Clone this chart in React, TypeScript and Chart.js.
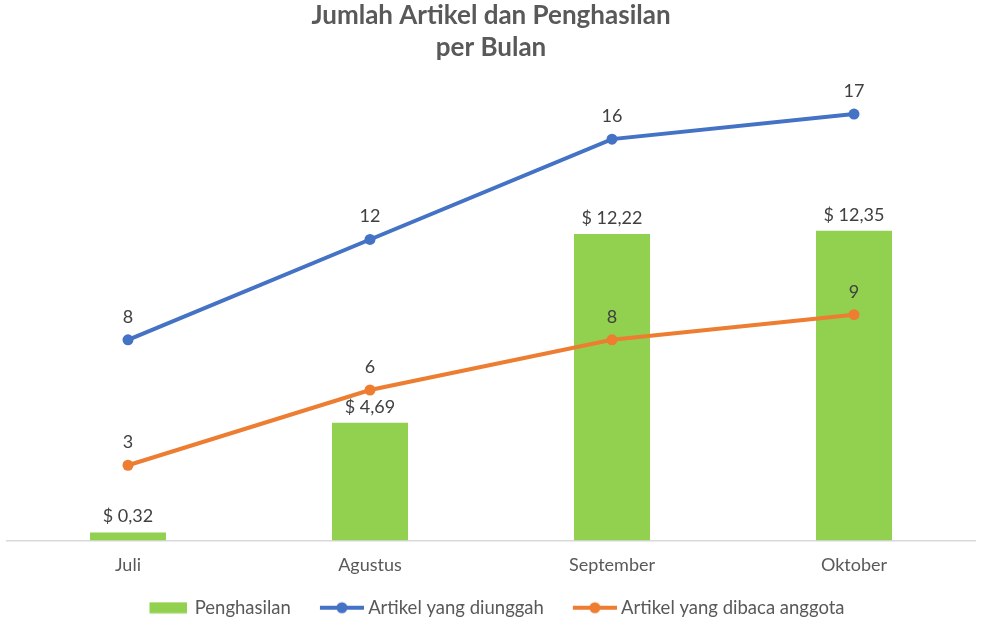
import React, { useEffect, useRef } from "react";
import { Chart, registerables } from "chart.js";

Chart.register(...registerables);

const categories = ["Juli", "Agustus", "September", "Oktober"];
const penghasilan = [0.32, 4.69, 12.22, 12.35];
const diunggah = [8, 12, 16, 17];
const dibaca = [3, 6, 8, 9];
const seriesNames = ["Penghasilan", "Artikel yang diunggah", "Artikel yang dibaca anggota"];
const titleLines = ["Jumlah Artikel dan Penghasilan", "per Bulan"];

const GREEN = "#92D050";
const BLUE = "#4472C4";
const ORANGE = "#ED7D31";
const FONT = "Lato, 'Open Sans', sans-serif";
const GAP = 7; // extra blank room put before each legend marker

function makeBoxIcon(color: string) {
  const w = 38;
  const c = document.createElement("canvas");
  c.width = w + 2 * GAP;
  c.height = 12;
  const ctx = c.getContext("2d")!;
  ctx.fillStyle = color;
  ctx.fillRect(2 * GAP, 0.5, w, 11);
  return c;
}

function makeLineIcon(color: string) {
  const w = 44;
  const c = document.createElement("canvas");
  c.width = w + 2 * GAP;
  c.height = 14;
  const ctx = c.getContext("2d")!;
  ctx.strokeStyle = color;
  ctx.lineWidth = 4;
  ctx.beginPath();
  ctx.moveTo(2 * GAP, 7);
  ctx.lineTo(2 * GAP + w, 7);
  ctx.stroke();
  ctx.fillStyle = color;
  ctx.beginPath();
  ctx.arc(2 * GAP + w / 2, 7, 5.5, 0, Math.PI * 2);
  ctx.fill();
  return c;
}

const labelPlugin = {
  id: "valueLabels",
  afterDatasetsDraw(chart: any) {
    const ctx = chart.ctx;
    ctx.save();
    ctx.font = `18px ${FONT}`;
    ctx.fillStyle = "#404040";
    ctx.textAlign = "center";
    ctx.textBaseline = "middle";
    chart.data.datasets.forEach((ds: any, di: number) => {
      const meta = chart.getDatasetMeta(di);
      meta.data.forEach((el: any, i: number) => {
        const v = ds.data[i];
        const isBar = ds.type === "bar";
        const text = isBar ? "$ " + v.toFixed(2).replace(".", ",") : String(v);
        ctx.fillText(text, el.x, el.y - (isBar ? 16 : 23));
      });
    });
    ctx.restore();
  },
};

export default function App() {
  const ref = useRef<HTMLCanvasElement>(null);
  useEffect(() => {
    document.body.style.margin = "0";
    const icons = [makeBoxIcon(GREEN), makeLineIcon(BLUE), makeLineIcon(ORANGE)];
    const chart = new Chart(ref.current!, {
      type: "bar",
      data: {
        labels: categories,
        datasets: [
          {
            type: "bar",
            label: seriesNames[0],
            data: penghasilan,
            backgroundColor: GREEN,
            barPercentage: 0.314,
            categoryPercentage: 1,
            order: 3,
          } as any,
          {
            type: "line",
            label: seriesNames[1],
            data: diunggah,
            borderColor: BLUE,
            backgroundColor: BLUE,
            borderWidth: 4,
            pointRadius: 5.5,
            pointBackgroundColor: BLUE,
            pointBorderWidth: 0,
            order: 1,
          },
          {
            type: "line",
            label: seriesNames[2],
            data: dibaca,
            borderColor: ORANGE,
            backgroundColor: ORANGE,
            borderWidth: 4,
            pointRadius: 5.5,
            pointBackgroundColor: ORANGE,
            pointBorderWidth: 0,
            order: 2,
          },
        ],
      },
      options: {
        animation: false,
        responsive: true,
        maintainAspectRatio: false,
        layout: { padding: { left: 7, right: 6, top: 0, bottom: -5 } },
        plugins: {
          tooltip: { enabled: false },
          title: {
            display: true,
            text: titleLines,
            color: "#595959",
            font: { family: FONT, size: 26, weight: "bold", lineHeight: 1.23 },
            padding: { top: 0, bottom: 25 },
          },
          legend: {
            position: "bottom",
            labels: {
              usePointStyle: true,
              pointStyleWidth: 34 + 2 * GAP,
              boxHeight: 12,
              padding: 20,
              color: "#595959",
              font: { family: FONT, size: 18.5 },
              generateLabels: () =>
                seriesNames.map((n, i) => ({
                  text: n,
                  pointStyle: icons[i] as any,
                  fillStyle: "transparent",
                  strokeStyle: "transparent",
                  lineWidth: 0,
                  hidden: false,
                  datasetIndex: i,
                  fontColor: "#595959",
                })),
            },
          },
        },
        scales: {
          x: {
            grid: { display: false, drawTicks: false },
            border: { display: true, color: "#d9d9d9", width: 1.5 },
            ticks: { color: "#595959", font: { family: FONT, size: 18 }, padding: 14 },
            afterFit: (scale: any) => {
              scale.height = 38;
            },
          },
          y: { display: false, min: 0, max: 18 },
        },
      },
      plugins: [labelPlugin],
    });
    return () => chart.destroy();
  }, []);
  return (
    <div style={{ position: "absolute", left: 0, top: 0, width: 981, height: 622, background: "#fff" }}>
      <canvas ref={ref} />
    </div>
  );
}
